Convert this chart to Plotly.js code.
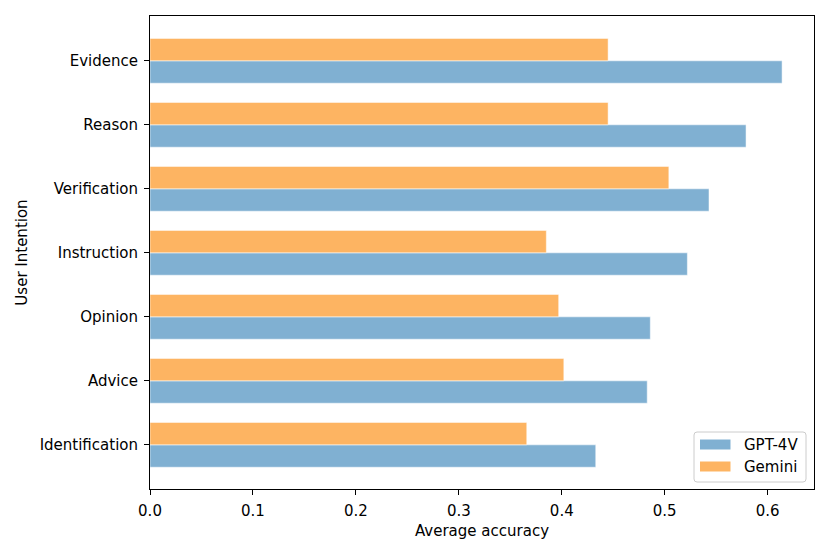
<!DOCTYPE html>
<html>
<head>
<meta charset="utf-8">
<script src="https://cdn.plot.ly/plotly-3.0.1.min.js"></script>
<style>html,body{margin:0;padding:0;background:#fff;}#chart{width:830px;height:554px;}</style>
</head>
<body>
<div id="chart"></div>
<script>
const categories = ["Identification", "Advice", "Opinion", "Instruction", "Verification", "Reason", "Evidence"];
const gpt4v = [0.433, 0.483, 0.486, 0.522, 0.543, 0.579, 0.614];
const gemini = [0.366, 0.402, 0.397, 0.385, 0.504, 0.445, 0.445];
const seriesNames = ["GPT-4V", "Gemini"];
const seriesColors = ["#80b0d2", "#fdb462"];
const xTicks = [0, 0.1, 0.2, 0.3, 0.4, 0.5, 0.6];
const xTickLabels = ["0.0", "0.1", "0.2", "0.3", "0.4", "0.5", "0.6"];

const font = {family: "DejaVu Sans", size: 15, color: "#000"};
const traces = seriesNames.map((n, i) => ({
  type: "bar", orientation: "h", name: n, y: categories, x: i === 0 ? gpt4v : gemini,
  marker: {color: seriesColors[i], line: {color: "rgba(255,255,255,0.5)", width: 1}},
  showlegend: false
}));

// custom legend (matplotlib-style) in paper coordinates
const W = 664, H = 473; // plot area size in px
const px = v => (v - 150) / W;
const py = v => (489 - v) / H;
function roundRect(x0, y0, x1, y1, r) {
  const rx = r / W, ry = r / H;
  const a = px(x0), b = px(x1), c = py(y0), d = py(y1);
  return `M${a + rx},${c} L${b - rx},${c} Q${b},${c} ${b},${c - ry} L${b},${d + ry} Q${b},${d} ${b - rx},${d} ` +
         `L${a + rx},${d} Q${a},${d} ${a},${d + ry} L${a},${c - ry} Q${a},${c} ${a + rx},${c} Z`;
}
const shapes = [
  {type: "path", xref: "paper", yref: "paper", path: roundRect(694, 432, 806, 482, 3),
   fillcolor: "rgba(255,255,255,0.8)", line: {color: "#cccccc", width: 1}},
  {type: "rect", xref: "paper", yref: "paper", x0: px(700), x1: px(730.5), y0: py(449.5), y1: py(439.5),
   fillcolor: seriesColors[0], line: {width: 0}},
  {type: "rect", xref: "paper", yref: "paper", x0: px(700), x1: px(730.5), y0: py(471.5), y1: py(461.5),
   fillcolor: seriesColors[1], line: {width: 0}}
];
const annotations = [
  {xref: "paper", yref: "paper", x: px(742), y: py(444.5), xanchor: "left", yanchor: "middle",
   text: seriesNames[0], showarrow: false, font: font},
  {xref: "paper", yref: "paper", x: px(742), y: py(466.5), xanchor: "left", yanchor: "middle",
   text: seriesNames[1], showarrow: false, font: font}
];

const layout = {
  width: 830, height: 554,
  margin: {l: 150, r: 16, t: 16, b: 65},
  paper_bgcolor: "#fff", plot_bgcolor: "#fff",
  font: font,
  barmode: "group", bargap: 0.3, bargroupgap: 0,
  showlegend: false,
  shapes: shapes,
  annotations: annotations,
  xaxis: {range: [0, 0.645], tickvals: xTicks, ticktext: xTickLabels,
          ticks: "outside", ticklen: 5, tickwidth: 1, tickcolor: "#000",
          ticklabelstandoff: 3,
          showline: true, linecolor: "#000", linewidth: 1, mirror: true,
          showgrid: false, zeroline: false,
          title: {text: "Average accuracy", font: font, standoff: 6}},
  yaxis: {type: "category", categoryorder: "array", categoryarray: categories,
          range: [-0.69, 6.7],
          ticks: "outside", ticklen: 5, tickwidth: 1, tickcolor: "#000",
          ticklabelstandoff: 3,
          showline: true, linecolor: "#000", linewidth: 1, mirror: true,
          showgrid: false, zeroline: false,
          title: {text: "User Intention", font: font, standoff: 8}}
};
Plotly.newPlot("chart", traces, layout, {displayModeBar: false, staticPlot: true});
</script>
</body>
</html>
